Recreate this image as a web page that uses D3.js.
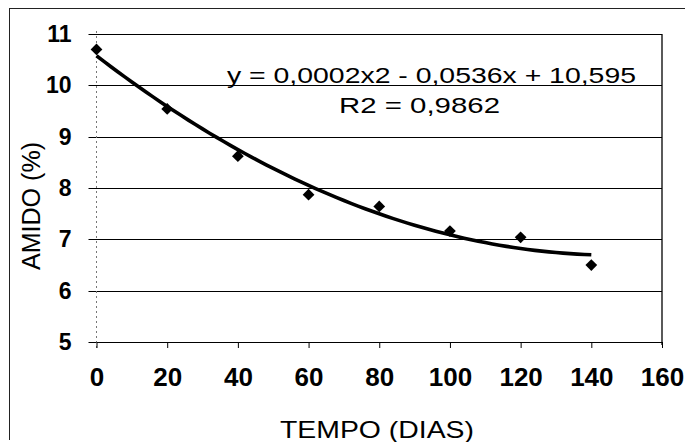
<!DOCTYPE html>
<html>
<head>
<meta charset="utf-8">
<script src="https://cdn.jsdelivr.net/npm/d3@7"></script>
<style>
  html, body { margin: 0; padding: 0; background: #fff; }
  svg { display: block; }
  text { font-family: "Liberation Sans", Arial, sans-serif; fill: #000; }
</style>
</head>
<body>
<svg id="chart" width="685" height="442"></svg>
<script>
// Starch content over storage time
const days = [0, 20, 40, 60, 80, 100, 120, 140];
const starch = [10.7, 9.54, 8.62, 7.87, 7.64, 7.16, 7.04, 6.5];
const xTicks = [0, 20, 40, 60, 80, 100, 120, 140, 160];
const yTicks = [5, 6, 7, 8, 9, 10, 11];
const equationText = "y = 0,0002x2 - 0,0536x + 10,595";
const r2Text = "R2 = 0,9862";

const svg = d3.select("#chart");
const x = d3.scaleLinear().domain([0, 160]).range([96.5, 662]);
const y = d3.scaleLinear().domain([5, 11]).range([342, 34]);

// outer frame
svg.append("line").attr("x1", 9).attr("x2", 685).attr("y1", 8.5).attr("y2", 8.5)
  .attr("stroke", "#222").attr("stroke-width", 1);
svg.append("line").attr("x1", 9.5).attr("x2", 9.5).attr("y1", 8).attr("y2", 440)
  .attr("stroke", "#222").attr("stroke-width", 1);

// horizontal gridlines (with left tick stubs)
svg.append("g").selectAll("line").data(yTicks).join("line")
  .attr("x1", x(0) - 8).attr("x2", x(160))
  .attr("y1", d => Math.round(y(d)) + 0.5).attr("y2", d => Math.round(y(d)) + 0.5)
  .attr("stroke", "#000").attr("stroke-width", 1.2);

// right border of plot area
svg.append("line").attr("x1", x(160)).attr("x2", x(160))
  .attr("y1", y(11)).attr("y2", y(5) + 3).attr("stroke", "#000").attr("stroke-width", 1.3);

// y axis
const yAxis = d3.axisLeft(y).tickValues(yTicks).tickSize(0).tickPadding(25)
  .tickFormat(d3.format("d"));
const gy = svg.append("g").attr("transform", `translate(${x(0)},0)`).call(yAxis);
gy.select(".domain").remove();
gy.append("line").attr("x1", 0).attr("x2", 0).attr("y1", y(11) - 3).attr("y2", y(5) + 6)
  .attr("stroke", "#777").attr("stroke-dasharray", "2,3");
gy.selectAll(".tick text").attr("font-size", 23).attr("font-weight", "bold")
  .attr("font-family", "Liberation Sans, Arial, sans-serif");

// x axis
const xAxis = d3.axisBottom(x).tickValues(xTicks).tickSize(6).tickPadding(20)
  .tickFormat(d3.format("d"));
const gx = svg.append("g").attr("transform", `translate(0,${y(5)})`).call(xAxis);
gx.select(".domain").remove();
gx.selectAll(".tick line").attr("stroke", "#000");
gx.selectAll(".tick text").attr("font-size", 26).attr("font-weight", "bold")
  .attr("font-family", "Liberation Sans, Arial, sans-serif");

// axis titles
svg.append("text").attr("x", 377).attr("y", 438)
  .attr("text-anchor", "middle").attr("font-size", 24)
  .attr("textLength", 194).attr("lengthAdjust", "spacingAndGlyphs")
  .text("TEMPO (DIAS)");
svg.append("text").attr("transform", "translate(40,206) rotate(-90)")
  .attr("text-anchor", "middle").attr("font-size", 25)
  .attr("textLength", 128).attr("lengthAdjust", "spacingAndGlyphs")
  .text("AMIDO (%)");

// polynomial (order 2) least-squares trend
function quadFit(xs, ys) {
  const n = xs.length;
  const s = [0, 0, 0, 0, 0], t = [0, 0, 0];
  for (let i = 0; i < n; i++) {
    for (let k = 0; k < 5; k++) s[k] += Math.pow(xs[i], k);
    for (let k = 0; k < 3; k++) t[k] += Math.pow(xs[i], k) * ys[i];
  }
  const A = [[s[0], s[1], s[2], t[0]], [s[1], s[2], s[3], t[1]], [s[2], s[3], s[4], t[2]]];
  for (let i = 0; i < 3; i++) {
    for (let j = i + 1; j < 3; j++) {
      const f = A[j][i] / A[i][i];
      for (let k = i; k < 4; k++) A[j][k] -= f * A[i][k];
    }
  }
  const c = [0, 0, 0];
  for (let i = 2; i >= 0; i--) {
    let v = A[i][3];
    for (let k = i + 1; k < 3; k++) v -= A[i][k] * c[k];
    c[i] = v / A[i][i];
  }
  return c;
}
const coef = quadFit(days, starch);
const trend = d3.range(0, 140.5, 2).map(d => [d, coef[0] + coef[1] * d + coef[2] * d * d]);
svg.append("path").datum(trend)
  .attr("fill", "none").attr("stroke", "#000").attr("stroke-width", 3.6)
  .attr("stroke-linejoin", "round")
  .attr("d", d3.line().x(d => x(d[0])).y(d => y(d[1])));

// data markers
svg.append("g").selectAll("path").data(days).join("path")
  .attr("transform", (d, i) => `translate(${x(d)},${y(starch[i])})`)
  .attr("d", d3.symbol().type(d3.symbolDiamond2).size(88))
  .attr("fill", "#000");

// trend equation
svg.append("text").attr("x", 431.5).attr("y", 83).attr("text-anchor", "middle")
  .attr("font-size", 22).attr("textLength", 409).attr("lengthAdjust", "spacingAndGlyphs")
  .text(equationText);
svg.append("text").attr("x", 419.5).attr("y", 113).attr("text-anchor", "middle")
  .attr("font-size", 22).attr("textLength", 161).attr("lengthAdjust", "spacingAndGlyphs")
  .text(r2Text);
</script>
</body>
</html>
